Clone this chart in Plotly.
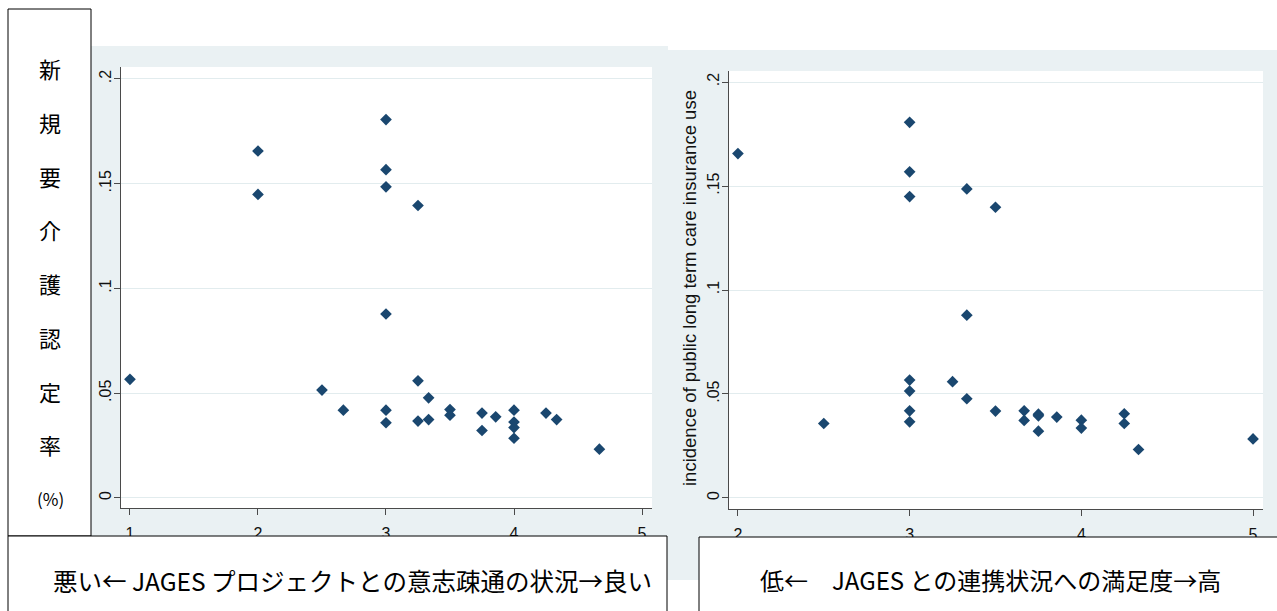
import plotly.graph_objects as go

W, H = 1277, 611

# ---- data ----
left_x = [1, 2, 2, 2.5, 2.667, 3, 3, 3, 3, 3, 3, 3.25, 3.25, 3.25, 3.333, 3.333,
          3.5, 3.5, 3.75, 3.75, 3.857, 4, 4, 4, 4, 4.25, 4.333, 4.667]
left_y = [0.0566, 0.1656, 0.1449, 0.0515, 0.0419, 0.1806, 0.1567, 0.1485, 0.0878,
          0.0419, 0.0359, 0.1396, 0.0559, 0.0367, 0.0478, 0.0374, 0.0422, 0.0395,
          0.0405, 0.0322, 0.0387, 0.0419, 0.0362, 0.0336, 0.0285, 0.0405, 0.0374, 0.0233]

right_x = [2, 2.5, 3, 3, 3, 3, 3, 3, 3, 3.25, 3.333, 3.333, 3.333, 3.5, 3.5,
           3.667, 3.667, 3.75, 3.75, 3.75, 3.857, 4, 4, 4.25, 4.25, 4.333, 5]
right_y = [0.1656, 0.0358, 0.1806, 0.1568, 0.1449, 0.0567, 0.0514, 0.0419, 0.0366,
           0.0559, 0.1486, 0.0879, 0.0477, 0.1398, 0.0418, 0.0419, 0.0373, 0.0403,
           0.0395, 0.0321, 0.0389, 0.0374, 0.0336, 0.0405, 0.0358, 0.0233, 0.0284]

x_ticks_left = [1, 2, 3, 4, 5]
x_ticks_right = [2, 3, 4, 5]
y_ticks = [0, 0.05, 0.1, 0.15, 0.2]
y_tick_labels = ["0", ".05", ".1", ".15", ".2"]

y_label_chars = ["新", "規", "要", "介", "護", "認", "定", "率", "(%)"]
left_caption = "悪い← JAGES プロジェクトとの意志疎通の状況→良い"
right_caption = "低←　JAGES との連携状況への満足度→高"
right_ytitle = "incidence of public long term care insurance use"


def px(x):
    return x / W


def py(y):
    return 1 - y / H


BG = "#eaf1f3"
NAVY = "#1a476f"
AX = "#4a4a4a"
TICKFONT = dict(family="Liberation Sans, Arial, sans-serif", size=16, color="#111111")
CJK = "Noto Sans CJK JP, Noto Sans CJK SC, sans-serif"

fig = go.Figure()
marker = dict(symbol="diamond", size=9, color=NAVY, line=dict(width=0))
fig.add_trace(go.Scatter(x=left_x, y=left_y, mode="markers", marker=marker,
                         xaxis="x", yaxis="y", showlegend=False, hoverinfo="skip"))
fig.add_trace(go.Scatter(x=right_x, y=right_y, mode="markers", marker=marker,
                         xaxis="x2", yaxis="y2", showlegend=False, hoverinfo="skip"))

common = dict(showline=True, linecolor=AX, linewidth=1, ticks="outside", ticklen=6,
              tickcolor=AX, tickwidth=1, tickfont=TICKFONT, zeroline=False,
              fixedrange=True)
xcommon = dict(showgrid=False, ticklabelstandoff=5, **common)
ycommon = dict(showgrid=True, gridcolor="#e2ecee", gridwidth=1, tickvals=y_ticks,
               ticktext=y_tick_labels, tickangle=-90, ticklabelstandoff=-3, **common)

fig.update_layout(
    width=W, height=H, autosize=False,
    margin=dict(l=0, r=0, t=0, b=0, pad=0),
    paper_bgcolor="white", plot_bgcolor="rgba(0,0,0,0)",
    xaxis=dict(domain=[px(121), px(652)], range=[0.93, 5.078], tickvals=x_ticks_left,
               anchor="y", **xcommon),
    yaxis=dict(domain=[py(508), py(67)], range=[-0.0048, 0.2057], anchor="x", **ycommon),
    xaxis2=dict(domain=[px(729), px(1263)], range=[1.948, 5.058], tickvals=x_ticks_right,
                anchor="y2", **xcommon),
    yaxis2=dict(domain=[py(509), py(71)], range=[-0.0053, 0.2053], anchor="x2", **ycommon),
)

shapes = []


def rect(x0, y0, x1, y1, fill, line=None, layer="below"):
    shapes.append(dict(type="rect", xref="paper", yref="paper",
                       x0=px(x0), x1=px(x1), y0=py(y1), y1=py(y0),
                       fillcolor=fill, layer=layer,
                       line=dict(width=1 if line else 0, color=line or fill)))


# graph regions (light blue-grey) and white plot regions
rect(91, 46, 668, 580, BG)
rect(668, 50, 1277, 580, BG)
rect(121, 67, 652, 508, "white")
rect(729, 71, 1263, 509, "white")
# framed text boxes on top
rect(8, 9, 91, 536, "white", "#000000", layer="above")
rect(8, 536, 667, 616, "white", "#000000", layer="above")
rect(699, 537, 1282, 616, "white", "#000000", layer="above")

annotations = []
n = len(y_label_chars)
top_c, bot_c = 68, 498
for i, ch in enumerate(y_label_chars):
    yc = top_c + (bot_c - top_c) * i / (n - 1)
    annotations.append(dict(text=ch, x=px(50), y=py(yc), xref="paper", yref="paper",
                            xanchor="center", yanchor="middle", showarrow=False,
                            font=dict(family=CJK, size=22 if len(ch) == 1 else 17,
                                      color="#000000")))

annotations.append(dict(text=right_ytitle, x=px(690), y=py(288), xref="paper", yref="paper",
                        xanchor="center", yanchor="middle", showarrow=False, textangle=-90,
                        font=dict(family="Liberation Sans, Arial, sans-serif", size=18.5,
                                  color="#111111")))
annotations.append(dict(text=left_caption, x=px(352), y=py(580), xref="paper", yref="paper",
                        xanchor="center", yanchor="middle", showarrow=False,
                        font=dict(family=CJK, size=24.5, color="#000000")))
annotations.append(dict(text=right_caption, x=px(990), y=py(579), xref="paper", yref="paper",
                        xanchor="center", yanchor="middle", showarrow=False,
                        font=dict(family=CJK, size=24, color="#000000")))

fig.update_layout(shapes=shapes, annotations=annotations)
fig.write_html("out.html", config={"displayModeBar": False, "staticPlot": True},
               post_script="document.body.style.margin='0';document.body.style.overflow='hidden';")
